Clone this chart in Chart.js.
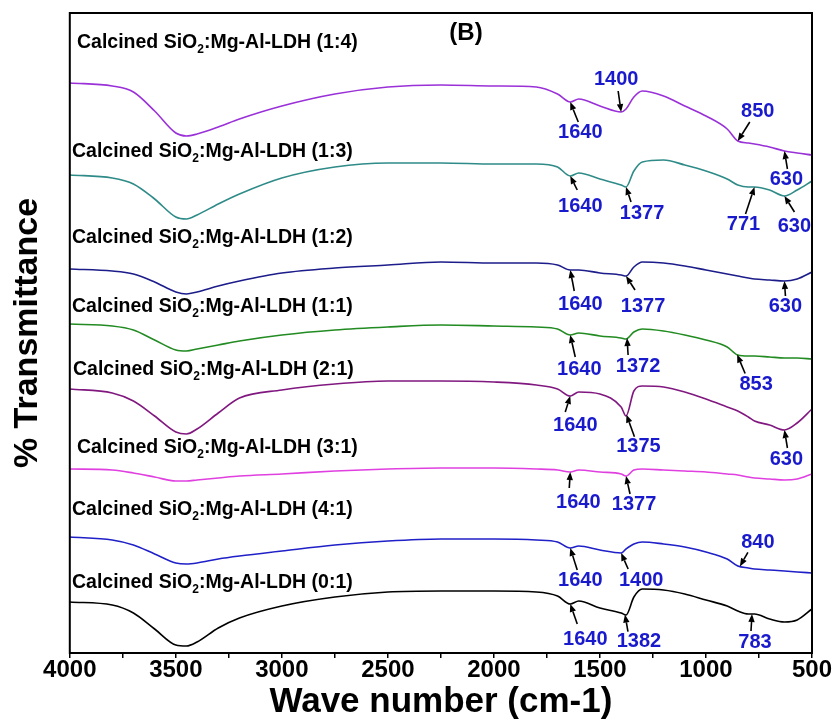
<!DOCTYPE html>
<html>
<head>
<meta charset="utf-8">
<script src="https://cdn.jsdelivr.net/npm/chart.js@4.4.0/dist/chart.umd.min.js"></script>
<style>
  html, body { margin: 0; padding: 0; background: #fff; }
</style>
</head>
<body>
<canvas id="ftirChart" width="834" height="724"></canvas>
<script>
// Wave numbers (cm-1) shared by all spectra
const wavenumbers = [4000, 3800, 3700, 3600, 3500, 3450, 3400, 3300, 3200, 3000, 2750, 2500, 2250, 2000, 1800, 1700,
    1640, 1600, 1500, 1400, 1377, 1340, 1300, 1200, 1100, 1000, 900, 850, 800, 771, 700, 630, 570, 500];

// Offset transmittance (a.u.), one array per SiO2:Mg-Al-LDH ratio
const ratio14 = [570, 567, 561, 542, 520, 517, 519, 526, 534, 547, 559, 566, 568, 567, 566, 559,
    551, 554, 547, 541, 544, 556, 562, 557, 547, 537, 524, 512, 510, 509, 506, 502, 500, 498];
const ratio13 = [478, 475, 469, 454, 436, 434, 438, 449, 459, 475, 486, 490, 490, 489, 489, 486,
    477, 480, 474, 468, 466, 482, 491, 493, 488, 482, 474, 468, 466, 466, 463, 457, 463, 472];
const ratio12 = [384, 382, 379, 371, 361, 359, 361, 367, 372, 380, 385, 388, 391, 390, 390, 388,
    383, 383, 380, 378, 377, 386, 391, 390, 387, 383, 379, 377, 375, 374, 373, 372, 374, 381];
const ratio11 = [329, 327, 323, 313, 303, 302, 304, 308, 312, 318, 323, 326, 328, 327, 326, 324,
    318, 320, 317, 315, 314, 321, 324, 322, 318, 313, 306, 298, 297, 297, 296, 295, 295, 294];
const ratio21 = [264, 260, 252, 237, 221, 219, 224, 240, 255, 263, 269, 272, 272, 271, 268, 264,
    257, 261, 259, 246, 237, 262, 267, 266, 261, 254, 246, 242, 236, 232, 228, 223, 230, 244];
const ratio31 = [184, 183, 180, 176, 172, 172, 173, 175, 177, 179, 182, 184, 185, 185, 184, 183,
    181, 183, 181, 179, 177, 183, 184, 183, 182, 181, 179, 178, 176, 175, 174, 173, 174, 179];
const ratio41 = [116, 113, 108, 99, 90, 89, 90, 94, 97, 102, 108, 112, 114, 114, 113, 111,
    105, 107, 103, 100, 104, 109, 111, 109, 106, 101, 94, 87, 85, 84, 83, 82, 81, 80];
const ratio01 = [51, 48, 40, 24, 8, 7, 11, 25, 35, 47, 56, 61, 62, 62, 61, 57,
    49, 52, 45, 40, 38, 56, 64, 63, 59, 53, 47, 42, 39, 39, 34, 31, 33, 44];

const sampleRatios = ['1:4', '1:3', '1:2', '1:1', '2:1', '3:1', '4:1', '0:1'];
const spectra = [ratio14, ratio13, ratio12, ratio11, ratio21, ratio31, ratio41, ratio01];

// Marked bands (cm-1) on each spectrum
const peaks14 = [1640, 1400, 850, 630];
const peaks13 = [1640, 1377, 771, 630];
const peaks12 = [1640, 1377, 630];
const peaks11 = [1640, 1372, 853];
const peaks21 = [1640, 1375, 630];
const peaks31 = [1640, 1377];
const peaks41 = [1640, 1400, 840];
const peaks01 = [1640, 1382, 783];
const peaks = [peaks14, peaks13, peaks12, peaks11, peaks21, peaks31, peaks41, peaks01];

const majorTicks = [4000, 3500, 3000, 2500, 2000, 1500, 1000, 500];

// Styles / layout
const FONT = '"Liberation Sans", Arial, sans-serif';
const lineColors = ['#9a30d8', '#2e8b88', '#1c1c8a', '#228b22', '#801880', '#e040e0', '#2020c8', '#000000'];
const labelPos = [[77, 48], [72, 157], [72, 243], [72, 312], [73, 375], [77, 453], [72, 515], [72, 588]];
// [tailDx, tailDy, textDx, textDy] relative to the arrow head on the curve
const peakLayout = [
    [[8, 20, 10, 30], [-3, -21, -5, -33], [12, -19, 20, -30], [3, 18, 2, 28]],
    [[7, 14, 10, 30], [5, 15, 16, 26], [-9, 27, -11, 37], [10, 16, 10, 30]],
    [[4, 21, 10, 34], [9, 14, 17, 30], [1, 15, 1, 25]],
    [[5, 22, 9, 34], [1, 17, 11, 28], [8, 19, 19, 30]],
    [[-5, 16, 5, 29], [8, 22, 12, 32], [3, 18, 2, 29]],
    [[-1, 16, 8, 30], [4, 18, 8, 28]],
    [[7, 22, 10, 32], [7, 16, 20, 27], [8, -14, 18, -24]],
    [[7, 20, 15, 35], [3, 17, 14, 27], [-1, 17, 3, 28]]
];

function valueAt(series, w) {
    for (let i = 0; i < wavenumbers.length - 1; i++) {
        const a = wavenumbers[i], b = wavenumbers[i + 1];
        if (w <= a && w >= b) {
            const t = (a - w) / (a - b);
            return series[i] + t * (series[i + 1] - series[i]);
        }
    }
    return series[series.length - 1];
}

function drawArrow(ctx, x1, y1, x2, y2) {
    const ang = Math.atan2(y2 - y1, x2 - x1);
    const len = 8, half = 3.2;
    const bx = x2 - len * Math.cos(ang), by = y2 - len * Math.sin(ang);
    ctx.beginPath();
    ctx.moveTo(x1, y1);
    ctx.lineTo(bx, by);
    ctx.stroke();
    ctx.beginPath();
    ctx.moveTo(x2, y2);
    ctx.lineTo(bx + half * Math.sin(ang), by - half * Math.cos(ang));
    ctx.lineTo(bx - half * Math.sin(ang), by + half * Math.cos(ang));
    ctx.closePath();
    ctx.fill();
}

function drawSampleLabel(ctx, x, y, ratio) {
    ctx.textAlign = 'left';
    ctx.textBaseline = 'alphabetic';
    ctx.fillStyle = '#000';
    ctx.font = 'bold 19.5px ' + FONT;
    const a = 'Calcined SiO';
    ctx.fillText(a, x, y);
    x += ctx.measureText(a).width;
    ctx.font = 'bold 12px ' + FONT;
    ctx.fillText('2', x, y + 5);
    x += ctx.measureText('2').width;
    ctx.font = 'bold 19.5px ' + FONT;
    ctx.fillText(':Mg-Al-LDH (' + ratio + ')', x, y);
}

const annotationPlugin = {
    id: 'ftirAnnotations',
    afterDatasetsDraw(chart) {
        const ctx = chart.ctx;
        const xs = chart.scales.x, ys = chart.scales.y;
        const area = chart.chartArea;
        ctx.save();

        // frame
        ctx.strokeStyle = '#000';
        ctx.lineWidth = 2;
        ctx.strokeRect(area.left, area.top, area.right - area.left, area.bottom - area.top);

        // panel tag
        ctx.fillStyle = '#000';
        ctx.font = 'bold 24px ' + FONT;
        ctx.textAlign = 'center';
        ctx.textBaseline = 'middle';
        ctx.fillText('(B)', 466, 33);

        sampleRatios.forEach((r, i) => drawSampleLabel(ctx, labelPos[i][0], labelPos[i][1], r));

        // band markers
        ctx.lineWidth = 1.6;
        ctx.strokeStyle = '#000';
        peaks.forEach((list, s) => {
            list.forEach((w, k) => {
                const hx = xs.getPixelForValue(w);
                const hy = ys.getPixelForValue(valueAt(spectra[s], w));
                const o = peakLayout[s][k];
                ctx.fillStyle = '#000';
                drawArrow(ctx, hx + o[0], hy + o[1], hx, hy);
                ctx.fillStyle = '#1a1acd';
                ctx.font = 'bold 20px ' + FONT;
                ctx.textAlign = 'center';
                ctx.textBaseline = 'middle';
                ctx.fillText(String(w), hx + o[2], hy + o[3]);
            });
        });
        ctx.restore();
    }
};

const ctx = document.getElementById('ftirChart').getContext('2d');
new Chart(ctx, {
    type: 'line',
    data: {
        datasets: spectra.map((series, i) => ({
            label: 'Calcined SiO2:Mg-Al-LDH (' + sampleRatios[i] + ')',
            data: wavenumbers.map((w, j) => ({ x: w, y: series[j] })),
            borderColor: lineColors[i],
            borderWidth: 1.6,
            pointRadius: 0,
            fill: false,
            cubicInterpolationMode: 'monotone'
        }))
    },
    options: {
        responsive: false,
        animation: false,
        layout: { padding: { left: 0, top: 13, right: 22, bottom: 0 } },
        plugins: {
            legend: { display: false },
            tooltip: { enabled: false }
        },
        scales: {
            x: {
                type: 'linear',
                reverse: true,
                min: 500,
                max: 4000,
                border: { display: false },
                grid: {
                    display: true,
                    drawOnChartArea: false,
                    drawTicks: true,
                    tickLength: 5,
                    color: '#000',
                    lineWidth: 1.5
                },
                ticks: {
                    stepSize: 250,
                    autoSkip: false,
                    maxRotation: 0,
                    padding: 0,
                    color: '#000',
                    font: { family: FONT, size: 24, weight: 'bold', lineHeight: 1 },
                    callback: v => majorTicks.includes(v) ? String(v) : ''
                },
                title: {
                    display: true,
                    text: 'Wave number (cm-1)',
                    color: '#000',
                    font: { family: FONT, size: 35, weight: 'bold', lineHeight: 1 },
                    padding: { top: 3, bottom: 4 }
                }
            },
            y: {
                min: 0,
                max: 640,
                border: { display: false },
                grid: { display: false, drawTicks: false },
                ticks: { display: false },
                title: {
                    display: true,
                    text: '% Transmittance',
                    color: '#000',
                    font: { family: FONT, size: 34, weight: 'bold', lineHeight: 1.2 },
                    padding: { top: 7, bottom: 22 }
                }
            }
        }
    },
    plugins: [annotationPlugin]
});
</script>
</body>
</html>
